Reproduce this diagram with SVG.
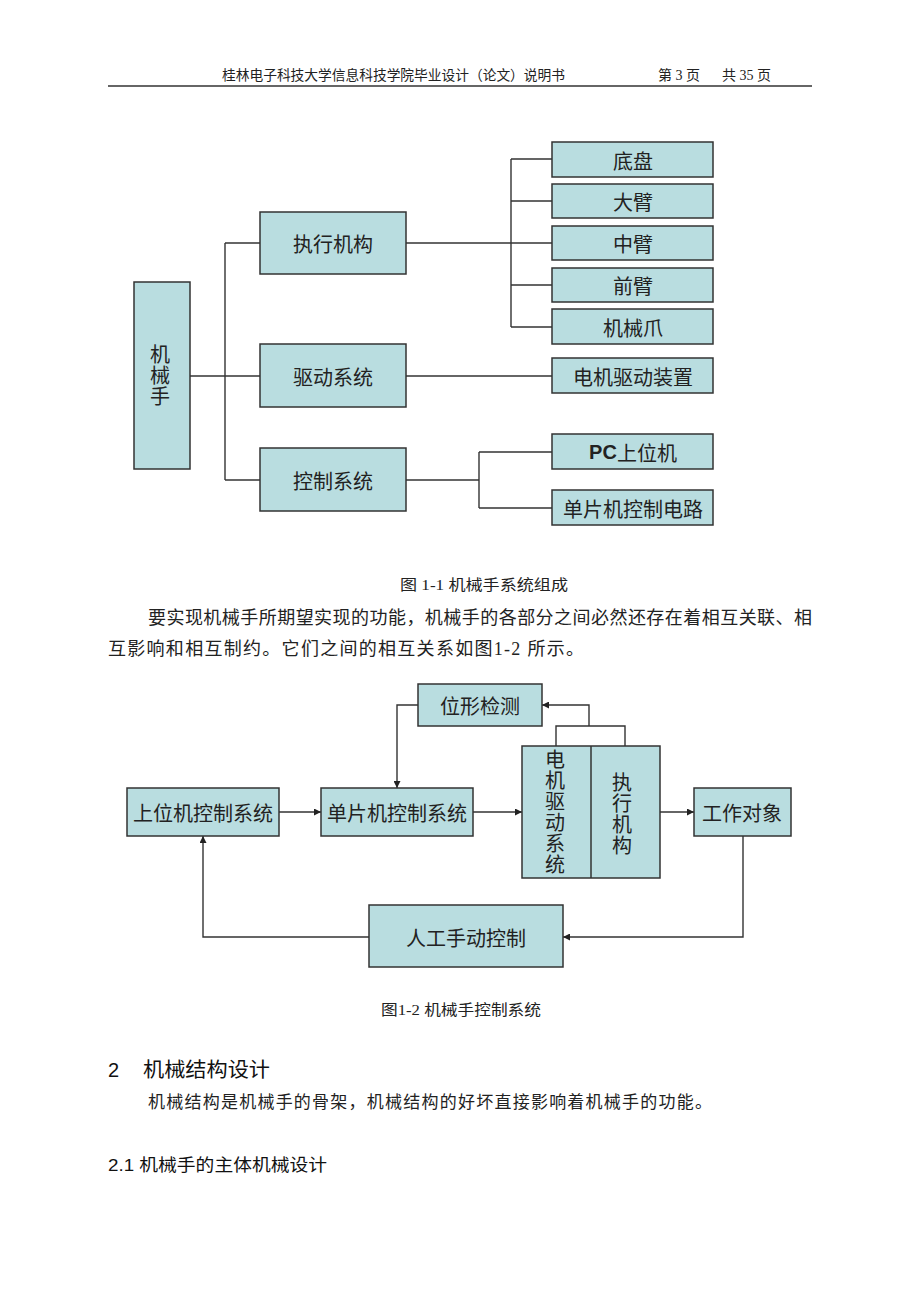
<svg xmlns="http://www.w3.org/2000/svg" width="920" height="1302" viewBox="0 0 920 1302">
<style>
.box{fill:#b9dde0;stroke:#333;stroke-width:1.5}
.ln{fill:none;stroke:#333;stroke-width:1.4}
.t{font-family:"Noto Sans CJK SC",sans-serif;font-size:20px;fill:#222;text-anchor:middle;dominant-baseline:central}
.v{font-family:"Noto Sans CJK SC",sans-serif;font-size:20px;fill:#222;text-anchor:middle;writing-mode:vertical-rl;letter-spacing:1px}
.b{font-family:"Liberation Sans","Noto Sans CJK SC",sans-serif;font-weight:bold}
.serif{font-family:"Liberation Serif","Noto Sans CJK SC",serif;fill:#222}
.hd{font-family:"Liberation Sans","Noto Sans CJK SC",sans-serif;fill:#111}
</style>
<defs>
<marker id="ah" viewBox="0 0 10 10" refX="10" refY="5" markerWidth="7" markerHeight="7" markerUnits="userSpaceOnUse" orient="auto">
<path d="M0,0 L10,5 L0,10 z" fill="#222"/>
</marker>
</defs>
<rect width="920" height="1302" fill="#fff"/>

<!-- header -->
<g id="header">
<text class="serif" x="222" y="80" font-size="14" textLength="343" lengthAdjust="spacingAndGlyphs">桂林电子科技大学信息科技学院毕业设计（论文）说明书</text>
<text class="serif" x="658" y="80" font-size="14">第 3 页</text>
<text class="serif" x="722" y="80" font-size="14">共 35 页</text>
<line x1="108" y1="86" x2="812" y2="86" stroke="#333" stroke-width="1.5"/>
</g>

<!-- Diagram 1 connectors -->
<g id="connectors1" class="ln">
<path d="M190,376 H260"/>
<path d="M225,243 V480"/>
<path d="M225,243 H260"/>
<path d="M225,480 H260"/>
<path d="M406,243 H552"/>
<path d="M511,159 V327"/>
<path d="M511,159 H552 M511,201 H552 M511,285 H552 M511,327 H552"/>
<path d="M406,376 H552"/>
<path d="M406,480 H479"/>
<path d="M479,452 V508"/>
<path d="M479,452 H552 M479,508 H552"/>
</g>

<g id="n_jxs"><rect class="box" x="134" y="282" width="56" height="187"/>
<text class="v" x="160" y="376">机械手</text></g>
<g id="n_zxjg"><rect class="box" x="260" y="212" width="146" height="62"/><text class="t" x="333" y="243">执行机构</text></g>
<g id="n_qdxt"><rect class="box" x="260" y="344" width="146" height="63"/><text class="t" x="333" y="376">驱动系统</text></g>
<g id="n_kzxt"><rect class="box" x="260" y="448" width="146" height="63"/><text class="t" x="333" y="480">控制系统</text></g>
<g id="n_dp"><rect class="box" x="552" y="142" width="161" height="35"/><text class="t" x="633" y="160">底盘</text></g>
<g id="n_db"><rect class="box" x="552" y="184" width="161" height="34"/><text class="t" x="633" y="201">大臂</text></g>
<g id="n_zb"><rect class="box" x="552" y="226" width="161" height="34"/><text class="t" x="633" y="243">中臂</text></g>
<g id="n_qb"><rect class="box" x="552" y="268" width="161" height="34"/><text class="t" x="633" y="285">前臂</text></g>
<g id="n_jxz"><rect class="box" x="552" y="309" width="161" height="35"/><text class="t" x="633" y="327">机械爪</text></g>
<g id="n_djqd"><rect class="box" x="552" y="358" width="161" height="35"/><text class="t" x="633" y="376" font-size="21">电机驱动装置</text></g>
<g id="n_pc"><rect class="box" x="552" y="434" width="161" height="35"/><text class="t" x="633" y="452"><tspan class="b">PC</tspan>上位机</text></g>
<g id="n_dpj"><rect class="box" x="552" y="490" width="161" height="35"/><text class="t" x="633" y="508">单片机控制电路</text></g>

<!-- caption + paragraph -->
<g id="text1">
<text class="serif" x="400" y="590" font-size="15" textLength="168" lengthAdjust="spacingAndGlyphs">图 1-1 机械手系统组成</text>
<text class="serif" x="148" y="624" font-size="18" textLength="664" lengthAdjust="spacing">要实现机械手所期望实现的功能，机械手的各部分之间必然还存在着相互关联、相</text>
<text class="serif" x="108" y="655" font-size="18" textLength="476" lengthAdjust="spacing">互影响和相互制约。它们之间的相互关系如图1-2 所示。</text>
</g>

<!-- Diagram 2 connectors -->
<g id="connectors2" class="ln">
<path d="M279,812 H321" marker-end="url(#ah)"/>
<path d="M418,705 H397 V788" marker-end="url(#ah)"/>
<path d="M473,812 H522" marker-end="url(#ah)"/>
<path d="M556,746 V726 H625 V746"/>
<path d="M589,726 V705 H542" marker-end="url(#ah)"/>
<path d="M660,812 H694" marker-end="url(#ah)"/>
<path d="M743,836 V937 H563" marker-end="url(#ah)"/>
<path d="M369,937 H203 V836" marker-end="url(#ah)"/>
</g>

<g id="m_wxjc"><rect class="box" x="418" y="684" width="124" height="42"/><text class="t" x="480" y="705">位形检测</text></g>
<g id="m_swj"><rect class="box" x="127" y="788" width="152" height="48"/><text class="t" x="203" y="812">上位机控制系统</text></g>
<g id="m_dpj"><rect class="box" x="321" y="788" width="152" height="48"/><text class="t" x="397" y="812">单片机控制系统</text></g>
<g id="m_djzx">
<rect class="box" x="522" y="746" width="138" height="132"/>
<line x1="591" y1="746" x2="591" y2="878" stroke="#333" stroke-width="1.5"/>
<text class="v" x="555" y="812">电机驱动系统</text>
<text class="v" x="622" y="814">执行机构</text>
</g>
<g id="m_gzdx"><rect class="box" x="694" y="788" width="97" height="48"/><text class="t" x="742" y="812">工作对象</text></g>
<g id="m_rgsd"><rect class="box" x="369" y="905" width="194" height="62"/><text class="t" x="466" y="937">人工手动控制</text></g>

<!-- caption + section text -->
<g id="text2">
<text class="serif" x="381" y="1015" font-size="15" textLength="160" lengthAdjust="spacingAndGlyphs">图1-2  机械手控制系统</text>
<text class="hd" x="108" y="1077" font-size="20">2</text>
<text class="hd" x="143" y="1077" font-size="20" textLength="127" lengthAdjust="spacingAndGlyphs">机械结构设计</text>
<text class="serif" x="148" y="1108" font-size="17" textLength="564" lengthAdjust="spacing">机械结构是机械手的骨架，机械结构的好坏直接影响着机械手的功能。</text>
<text class="hd" x="108" y="1171" font-size="17" textLength="219" lengthAdjust="spacingAndGlyphs">2.1 机械手的主体机械设计</text>
</g>
</svg>
